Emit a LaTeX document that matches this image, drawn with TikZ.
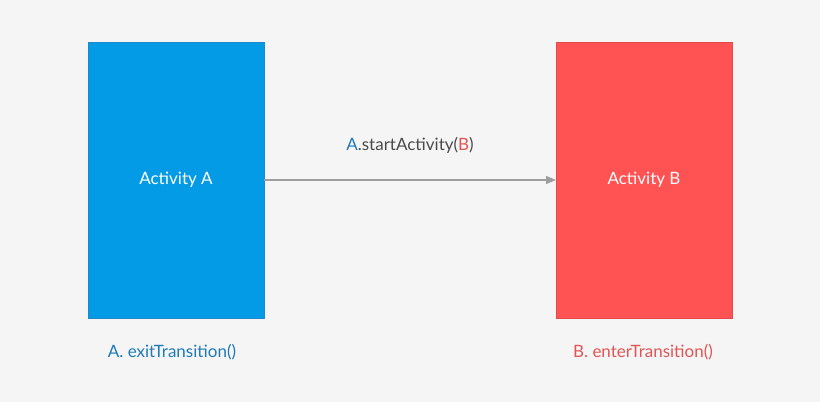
\documentclass[tikz,border=0pt]{standalone}
\usepackage{fontspec}
\setmainfont{Lato}
\usetikzlibrary{arrows.meta}

\definecolor{bgcol}{HTML}{F5F5F5}
\definecolor{actblue}{HTML}{039BE5}
\definecolor{actblueedge}{HTML}{1E88C8}
\definecolor{actred}{HTML}{FF5252}
\definecolor{actrededge}{HTML}{E54A4A}
\definecolor{txtblue}{HTML}{1F7AB8}
\definecolor{txtred}{HTML}{E05555}
\definecolor{txtgray}{HTML}{4A4A4A}
\definecolor{arrowgray}{HTML}{9E9E9E}

\tikzset{
  activity/.style={minimum width=176pt, minimum height=276pt, inner sep=0pt, outer sep=0pt,
    line width=1pt, text=white, font=\fontsize{17}{20}\selectfont},
  callout/.style={inner sep=0pt, font=\fontsize{17}{20}\selectfont}
}

\begin{document}
\begin{tikzpicture}[x=1pt,y=-1pt]
    \fill[bgcol] (0,0) rectangle (820,402);

    \node[activity, fill=actblue, draw=actblueedge] (actA) at (176,180) {Activity A};
    \node[activity, fill=actred, draw=actrededge] (actB) at (644,180) {Activity B};

    \draw[arrowgray, line width=1.2pt, -{Triangle[length=10pt,width=8pt]}] (actA) -- (actB);

    \node[callout, text=txtgray] (start) at (410,145)
      {\textcolor{txtblue}{A}.startActivity(\textcolor{txtred}{B})};

    \node[callout, text=txtblue] (exitA) at (172,352) {A. exitTransition()};
    \node[callout, text=txtred] (enterB) at (643,352) {B. enterTransition()};
\end{tikzpicture}
\end{document}
